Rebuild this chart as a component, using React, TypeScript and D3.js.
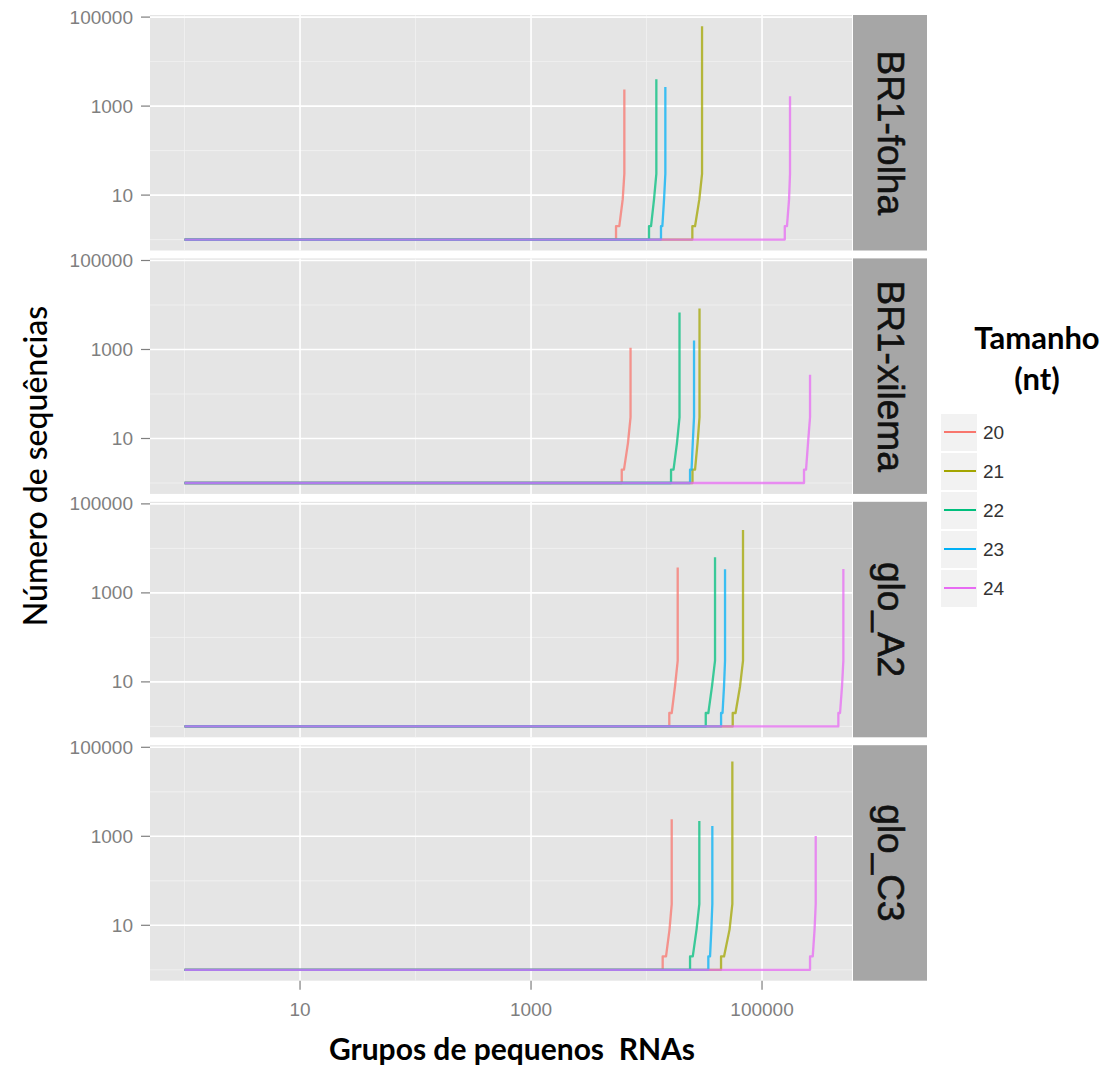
import React from "react";
import * as d3 from "d3";

const PANELS = ["BR1-folha", "BR1-xilema", "glo_A2", "glo_C3"];
const SIZES = ["20", "21", "22", "23", "24"];
const COLORS = ["#F8766D", "#A3A500", "#00BF7D", "#00B0F6", "#E76BF3"];

// Rank (x) where each curve leaves count 1, per panel, sizes 20..24
const riseStart = [
  [5445, 24930, 10510, 13340, 157400],
  [6100, 25000, 16300, 23810, 231000],
  [15750, 55740, 32570, 44200, 458000],
  [13800, 44170, 23810, 34280, 260400],
];
// Rank at end of first step (count 2)
const stepEnd = [
  [5810, 26300, 10940, 13710, 164400],
  [6380, 26300, 17130, 24540, 240500],
  [16520, 58980, 34300, 45500, 473600],
  [14750, 46880, 25140, 35480, 274800],
];
// Rank at the knee of the curve
const kneeRank = [
  [6220, 28650, 11610, 14180, 171400],
  [6910, 27660, 18360, 25140, 250200],
  [17650, 64520, 36900, 46880, 492800],
  [15810, 52330, 27100, 36400, 285000],
];
// Total number of groups (last rank)
const lastRank = [
  [6425, 30250, 12160, 14550, 174700],
  [7270, 28760, 19300, 25780, 260400],
  [18620, 68460, 39180, 47830, 506000],
  [16520, 55330, 28650, 37130, 291700],
];
// Largest group count
const maxCount = [
  [2350, 62000, 4000, 2700, 1660],
  [1100, 8300, 6800, 1600, 270],
  [3700, 26000, 6300, 3400, 3450],
  [2400, 48000, 2200, 1700, 1020],
];
// counts read at step, knee and start of the vertical part
const shapeCounts = [2, 8, 30];

const X_TICKS = [10, 1000, 100000];
const X_MINOR = [1, 100, 10000];
const Y_TICKS = [10, 1000, 100000];
const Y_MINOR = [1, 100, 10000];

const W = 1110;
const H = 1066;
const PL = 150;
const PR = 852;
const STRIP_W = 74;
const PANEL_TOP0 = 15;
const PANEL_STEP = 243.4;
const PANEL_H = 235.5;

export default function App() {
  const x = d3
    .scaleLog()
    .domain([Math.pow(10, -0.299), Math.pow(10, 5.779)])
    .range([PL, PR]);
  const y = d3
    .scaleLog()
    .domain([Math.pow(10, -0.245), Math.pow(10, 5.047)])
    .range([PANEL_H, 0]);

  const line = d3
    .line<[number, number]>()
    .x((d) => x(d[0]))
    .y((d) => y(d[1]));

  const lastTop = PANEL_TOP0 + 3 * PANEL_STEP;
  const bottom = lastTop + PANEL_H;

  return (
    <svg
      width={W}
      height={H}
      style={{ position: "absolute", left: 0, top: 0, background: "#fff" }}
      fontFamily="'Liberation Sans', Arial, sans-serif"
    >
      {PANELS.map((p, pi) => {
        const top = PANEL_TOP0 + pi * PANEL_STEP;
        return (
          <g key={p} transform={`translate(0,${top})`}>
            <rect x={PL} y={0} width={PR - PL} height={PANEL_H} fill="#E5E5E5" />
            {Y_MINOR.map((v) => (
              <line key={"ym" + v} x1={PL} x2={PR} y1={y(v)} y2={y(v)} stroke="#F2F2F2" strokeWidth={0.8} />
            ))}
            {X_MINOR.map((v) => (
              <line key={"xm" + v} x1={x(v)} x2={x(v)} y1={0} y2={PANEL_H} stroke="#F2F2F2" strokeWidth={0.8} />
            ))}
            {Y_TICKS.map((v) => (
              <line key={"yM" + v} x1={PL} x2={PR} y1={y(v)} y2={y(v)} stroke="#FFFFFF" strokeWidth={1.6} />
            ))}
            {X_TICKS.map((v) => (
              <line key={"xM" + v} x1={x(v)} x2={x(v)} y1={0} y2={PANEL_H} stroke="#FFFFFF" strokeWidth={1.6} />
            ))}
            {SIZES.map((s, si) => {
              const pts: [number, number][] = [
                [1, 1],
                [riseStart[pi][si], 1],
                [riseStart[pi][si], shapeCounts[0]],
                [stepEnd[pi][si], shapeCounts[0]],
                [kneeRank[pi][si], shapeCounts[1]],
                [lastRank[pi][si], shapeCounts[2]],
                [lastRank[pi][si], maxCount[pi][si]],
              ];
              return (
                <path
                  key={s}
                  d={line(pts) || ""}
                  fill="none"
                  stroke={COLORS[si]}
                  strokeWidth={2.3}
                  strokeOpacity={0.75}
                  strokeLinejoin="round"
                />
              );
            })}
            {/* y axis */}
            {Y_TICKS.map((v) => (
              <g key={"yt" + v}>
                <line x1={PL - 9} x2={PL} y1={y(v)} y2={y(v)} stroke="#7F7F7F" strokeWidth={1.2} />
                <text
                  x={PL - 17}
                  y={y(v)}
                  textAnchor="end"
                  dominantBaseline="central"
                  fontSize={19}
                  fill="#7F7F7F"
                >
                  {d3.format("d")(v)}
                </text>
              </g>
            ))}
            {/* strip */}
            <rect x={PR + 1} y={0} width={STRIP_W} height={PANEL_H} fill="#A6A6A6" />
            <text
              transform={`translate(${PR + 1 + STRIP_W / 2},${PANEL_H / 2}) rotate(90)`}
              textAnchor="middle"
              dominantBaseline="central"
              fontSize={37}
              fill="#111"
              stroke="#111"
              strokeWidth={0.6}
            >
              {p}
            </text>
          </g>
        );
      })}

      {/* x axis */}
      {X_TICKS.map((v) => (
        <g key={"xt" + v}>
          <line x1={x(v)} x2={x(v)} y1={bottom} y2={bottom + 9} stroke="#7F7F7F" strokeWidth={1.2} />
          <text x={x(v)} y={bottom + 29} textAnchor="middle" dominantBaseline="central" fontSize={19} fill="#7F7F7F">
            {d3.format("d")(v)}
          </text>
        </g>
      ))}

      <text
        x={512}
        y={1048}
        textAnchor="middle"
        dominantBaseline="central"
        fontSize={30}
        fontWeight={700}
        fontFamily="Lato, 'Open Sans', sans-serif"
        fill="#000"
        xmlSpace="preserve"
        style={{ whiteSpace: "pre" }}
      >
        {"Grupos de pequenos  RNAs"}
      </text>
      <text
        transform={`translate(34,466) rotate(-90)`}
        textAnchor="middle"
        dominantBaseline="central"
        fontSize={32}
        fontWeight={500}
        fontFamily="Lato, 'Open Sans', sans-serif"
        fill="#000"
      >
        Número de sequências
      </text>
      <text x={35} y={452} fontSize={16} textAnchor="middle" fill="#333">.</text>

      {/* legend */}
      <text x={1037} y={337} textAnchor="middle" dominantBaseline="central" fontSize={31} fontWeight={700} fontFamily="Lato, 'Open Sans', sans-serif" fill="#000">
        Tamanho
      </text>
      <text x={1037} y={378} textAnchor="middle" dominantBaseline="central" fontSize={31} fontWeight={700} fontFamily="Lato, 'Open Sans', sans-serif" fill="#000">
        (nt)
      </text>
      {SIZES.map((s, si) => {
        const cy = 432 + si * 39;
        return (
          <g key={"lg" + s}>
            <rect x={941} y={cy - 18} width={36} height={37} fill="#F2F2F2" />
            <line x1={944} x2={976} y1={cy} y2={cy} stroke={COLORS[si]} strokeWidth={2} />
            <text x={983} y={cy} dominantBaseline="central" fontSize={19} fill="#333">
              {s}
            </text>
          </g>
        );
      })}
    </svg>
  );
}
